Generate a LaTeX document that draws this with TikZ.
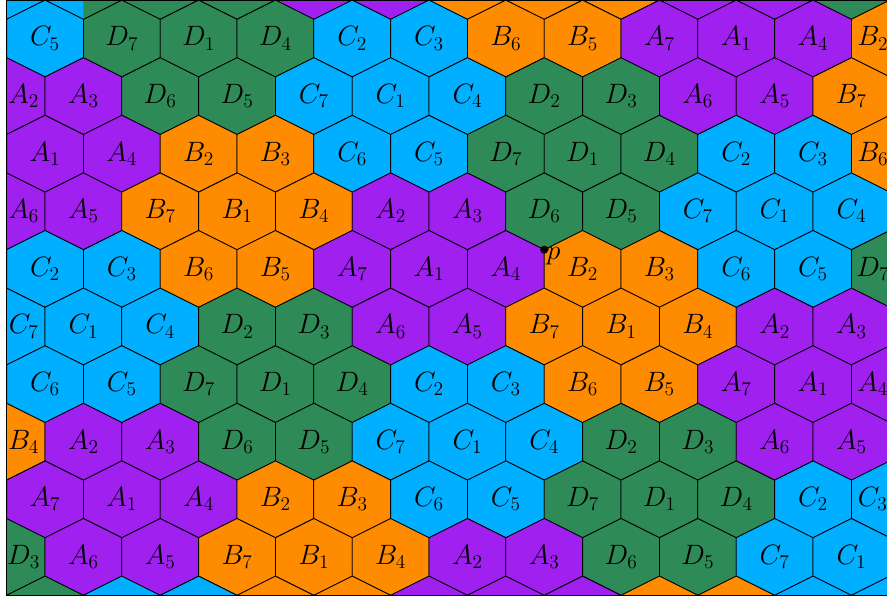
\documentclass[tikz,border=0pt]{standalone}
\definecolor{cellA}{RGB}{160,32,240}
\definecolor{cellB}{RGB}{255,140,0}
\definecolor{cellC}{RGB}{0,175,255}
\definecolor{cellD}{RGB}{46,139,87}
\tikzset{
  hexcell/.style={draw=black,line width=0.6pt},
  hexlabel/.style={font=\fontsize{21}{24}\selectfont,inner sep=0pt}
}
\begin{document}
\begin{tikzpicture}
\useasboundingbox (-0.172,-16.174) rectangle (22.927,-0.497);
\begin{scope}
\clip (0,-0.5) rectangle (23,-16);
\foreach \row/\cells in {%
  0/{C/1,C/4,D/2,D/3,A/6,A/5,B/7,B/1,B/4,A/2,A/3,D/6},
  1/{C/5,D/7,D/1,D/4,C/2,C/3,B/6,B/5,A/7,A/1,A/4,B/2},
  2/{A/2,A/3,D/6,D/5,C/7,C/1,C/4,D/2,D/3,A/6,A/5,B/7},
  3/{A/1,A/4,B/2,B/3,C/6,C/5,D/7,D/1,D/4,C/2,C/3,B/6},
  4/{A/6,A/5,B/7,B/1,B/4,A/2,A/3,D/6,D/5,C/7,C/1,C/4},
  5/{C/2,C/3,B/6,B/5,A/7,A/1,A/4,B/2,B/3,C/6,C/5,D/7},
  6/{C/7,C/1,C/4,D/2,D/3,A/6,A/5,B/7,B/1,B/4,A/2,A/3},
  7/{C/6,C/5,D/7,D/1,D/4,C/2,C/3,B/6,B/5,A/7,A/1,A/4},
  8/{B/4,A/2,A/3,D/6,D/5,C/7,C/1,C/4,D/2,D/3,A/6,A/5},
  9/{A/7,A/1,A/4,B/2,B/3,C/6,C/5,D/7,D/1,D/4,C/2,C/3},
  10/{D/3,A/6,A/5,B/7,B/1,B/4,A/2,A/3,D/6,D/5,C/7,C/1},
  11/{D/4,C/2,C/3,B/6,B/5,A/7,A/1,A/4,B/2,B/3,C/6,C/5}%
}{
  \foreach \grp/\idx [count=\k] in \cells {
    \pgfmathsetmacro\cx{2*(\k-1)+mod(\row,2)}
    \pgfmathsetmacro\cy{-1.5*\row}
    \filldraw[hexcell,fill=cell\grp] (\cx,\cy+1) -- (\cx+1,\cy+0.5) -- (\cx+1,\cy-0.5)
      -- (\cx,\cy-1) -- (\cx-1,\cy-0.5) -- (\cx-1,\cy+0.5) -- cycle;
    % labels only on the rows that show, cut cells at their centroid
    \ifnum\row>0 \ifnum\row<11
      \pgfmathsetmacro\lx{\cx<0.5 ? 0.444 : (\cx>22.5 ? 22.556 : \cx)}
      \node[hexlabel] (cell-\row-\k) at (\lx,\cy) {$\grp_{\idx}$};
    \fi\fi
  }
}
% green wedge in the top strip
\fill[cellD] (2,-0.5) -- (3,-0.5) -- (2,-1) -- cycle;
\draw[hexcell] (2,-1) -- (3,-0.5);
\end{scope}
\draw[line width=0.8pt] (0,-0.5) rectangle (23,-16);
\coordinate (p) at (14,-7);
\fill (p) circle (3pt);
\node[hexlabel,anchor=base west] (plabel) at ([xshift=1.5pt,yshift=-7pt]p) {$p$};
\end{tikzpicture}
\end{document}
